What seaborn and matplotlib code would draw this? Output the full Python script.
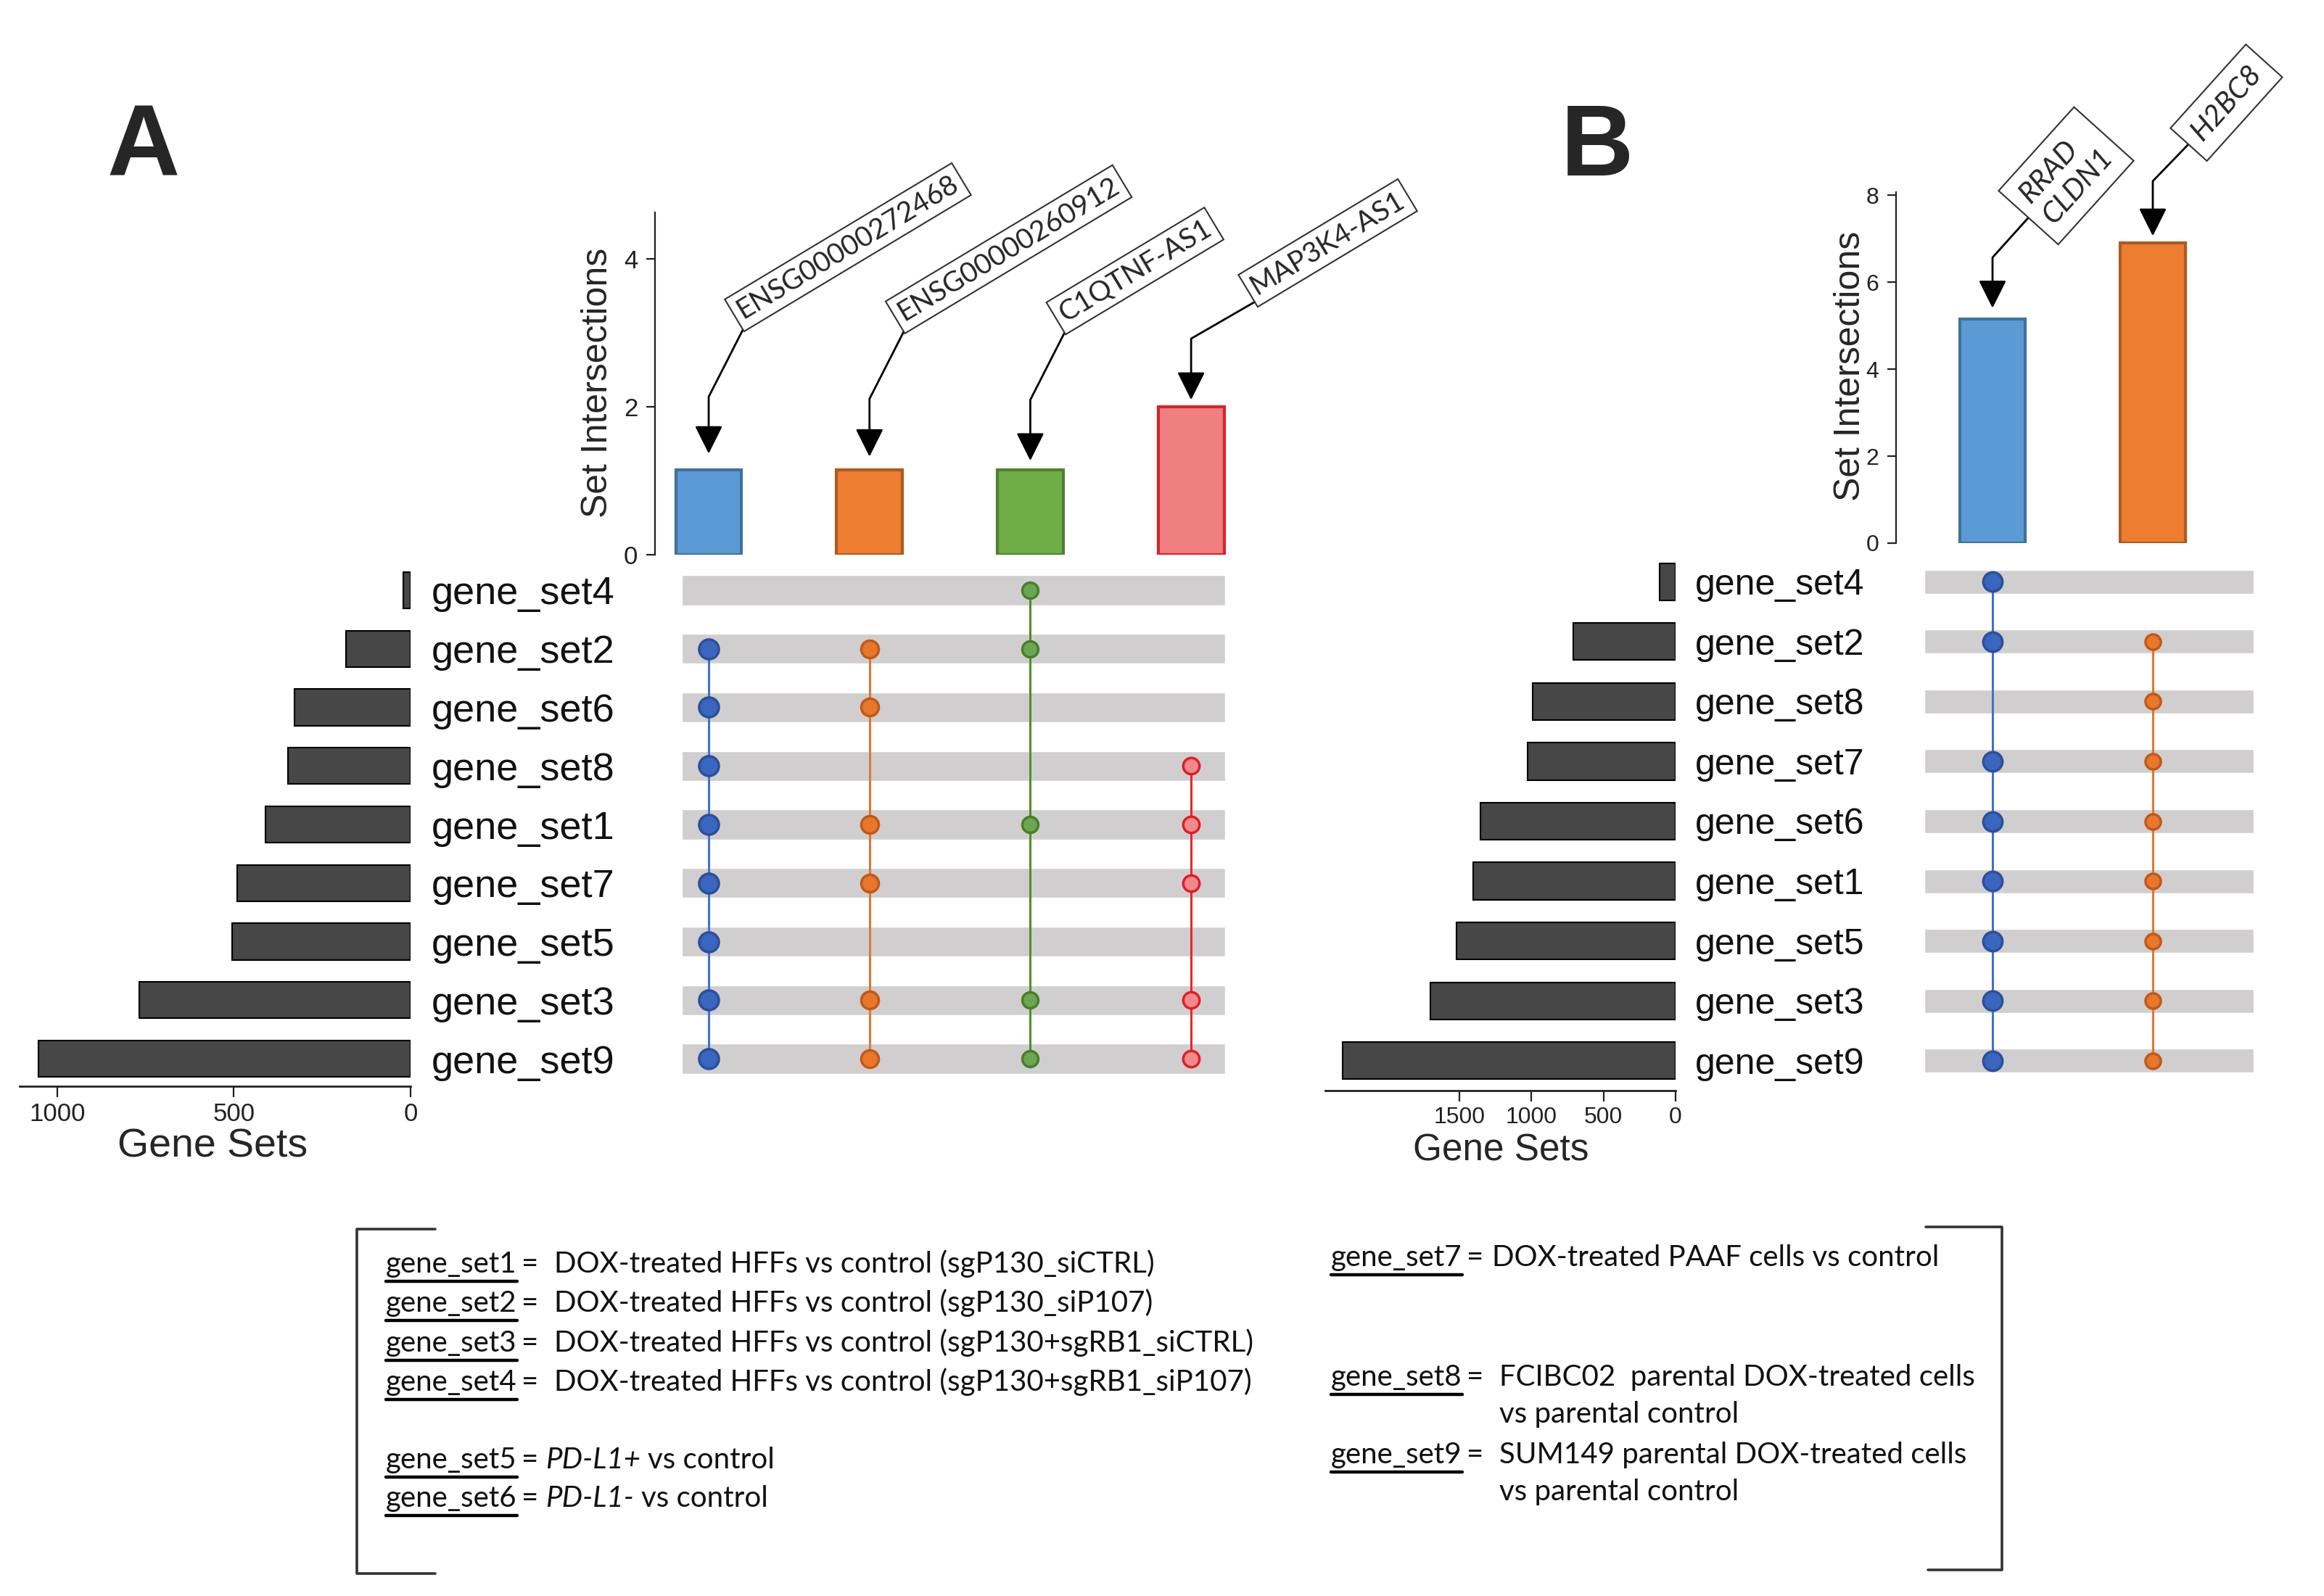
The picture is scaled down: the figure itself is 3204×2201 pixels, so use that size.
import numpy as np
import pandas as pd
import matplotlib
matplotlib.use('Agg')
import matplotlib.pyplot as plt
from matplotlib.lines import Line2D
import seaborn as sns

# ---------------------------------------------------------
# Data
# ---------------------------------------------------------
sets_a = ['gene_set4', 'gene_set2', 'gene_set6', 'gene_set8', 'gene_set1',
          'gene_set7', 'gene_set5', 'gene_set3', 'gene_set9']
set_sizes_a = [20, 182, 328, 346, 410, 491, 504, 767, 1053]
genes_a = ['ENSG00000272468', 'ENSG00000260912', 'C1QTNF-AS1', 'MAP3K4-AS1']
counts_a = [1.15, 1.15, 1.15, 2.0]
members_a = [
    ['gene_set2', 'gene_set6', 'gene_set8', 'gene_set1', 'gene_set7', 'gene_set5', 'gene_set3', 'gene_set9'],
    ['gene_set2', 'gene_set6', 'gene_set1', 'gene_set7', 'gene_set3', 'gene_set9'],
    ['gene_set4', 'gene_set2', 'gene_set1', 'gene_set3', 'gene_set9'],
    ['gene_set8', 'gene_set1', 'gene_set7', 'gene_set3', 'gene_set9'],
]

sets_b = ['gene_set4', 'gene_set2', 'gene_set8', 'gene_set7', 'gene_set6',
          'gene_set1', 'gene_set5', 'gene_set3', 'gene_set9']
set_sizes_b = [113, 708, 991, 1027, 1352, 1406, 1519, 1699, 2311]
genes_b = ['RRAD\nCLDN1', 'H2BC8']
counts_b = [5.15, 6.9]
members_b = [
    ['gene_set4', 'gene_set2', 'gene_set7', 'gene_set6', 'gene_set1', 'gene_set5', 'gene_set3', 'gene_set9'],
    ['gene_set2', 'gene_set8', 'gene_set7', 'gene_set6', 'gene_set1', 'gene_set5', 'gene_set3', 'gene_set9'],
]

legend_left = [
    ('gene_set1', [('DOX-treated HFFs vs control (sgP130_siCTRL)', 'normal')], None),
    ('gene_set2', [('DOX-treated HFFs vs control (sgP130_siP107)', 'normal')], None),
    ('gene_set3', [('DOX-treated HFFs vs control (sgP130+sgRB1_siCTRL)', 'normal')], None),
    ('gene_set4', [('DOX-treated HFFs vs control (sgP130+sgRB1_siP107)', 'normal')], None),
    ('gene_set5', [('PD-L1+', 'italic'), ('vs control', 'normal')], None),
    ('gene_set6', [('PD-L1-', 'italic'), ('vs control', 'normal')], None),
]
legend_right = [
    ('gene_set7', [('DOX-treated PAAF cells vs control', 'normal')], None),
    ('gene_set8', [('FCIBC02  parental DOX-treated cells', 'normal')], 'vs parental control'),
    ('gene_set9', [('SUM149 parental DOX-treated cells', 'normal')], 'vs parental control'),
]

# colours
bar_fill = ['#5b9bd5', '#ed7d31', '#70ad47', '#f08080']
bar_edge = ['#41719c', '#ae5a21', '#507e32', '#d9222a']
dot_fill = ['#3a66c0', '#e8772a', '#6aa84f', '#f08a8a']
dot_edge = ['#2b4f9a', '#c0581a', '#4a7d2c', '#e01e26']
line_col = ['#4472c4', '#d97a34', '#4f8f2f', '#e8262c']
stripe_col = '#d0cece'
set_bar_col = '#474747'

# ---------------------------------------------------------
# Layout (pixel positions of the 3204 x 2201 canvas)
# ---------------------------------------------------------
W, H, DPI = 3204, 2201, 100
ANN_FONT = 'Lato'

layout_a = dict(left_x=(27, 566), mat_x=(903, 1700), top_y=(293, 765), low_y=(776, 1498),
                cols=(-0.334, 3.261), rows=(8.47, -0.47), stripe=(-0.167, 3.21), stripe_h=0.51,
                count_max=4.63, count_ticks=[0, 2, 4], size_max=1106, size_ticks=[0, 500, 1000],
                ylab_xy=(-0.099, 0.502), xlab_xy=(0.493, -0.116),
                name_fs=39, name_pad=21, xt_fs=25, yt_fs=25, xlab_fs=40, ylab_fs=36,
                dot_s=[380, 300, 250, 260],
                ann_rot=31, ann_va='bottom', ann_style='normal', ann_fs=28, ann_pad=0.2,
                ann=[((37, 145), 16, 63), ((37, 143), 13, 63), ((37, 142), 9, 63), ((68, 107), 7, 30)])

layout_b = dict(left_x=(1827, 2310), mat_x=(2614, 3120), top_y=(265, 749), low_y=(761, 1504),
                cols=(-0.602, 1.688), rows=(8.5, -0.5), stripe=(-0.425, 1.63), stripe_h=0.40,
                count_max=8.07, count_ticks=[0, 2, 4, 6, 8], size_max=2431, size_ticks=[0, 500, 1000, 1500],
                ylab_xy=(-0.1245, 0.504), xlab_xy=(0.501, -0.112),
                name_fs=36, name_pad=19, xt_fs=23, yt_fs=23, xlab_fs=37, ylab_fs=36,
                dot_s=[360, 230],
                ann_rot=48, ann_va='center', ann_style='italic', ann_fs=29, ann_pad=0.38,
                ann=[((43, 109), 11, 48), ((43, 106), 7, 46)])


def px_rect(x0, x1, ytop, ybot):
    return [x0 / W, 1 - ybot / H, (x1 - x0) / W, (ybot - ytop) / H]


sns.set_theme(style='ticks')
plt.rcParams['font.family'] = ['Liberation Sans', 'DejaVu Sans']

fig = plt.figure(figsize=(W / DPI, H / DPI), dpi=DPI)


def draw_upset(sets, set_sizes, genes, counts, members, lay):
    ax_top = fig.add_axes(px_rect(*lay['mat_x'], *lay['top_y']))
    ax_left = fig.add_axes(px_rect(*lay['left_x'], *lay['low_y']))
    ax_mat = fig.add_axes(px_rect(*lay['mat_x'], *lay['low_y']))
    ncol = len(genes)

    # intersection size bars
    df_top = pd.DataFrame({'gene': genes, 'count': counts})
    sns.barplot(data=df_top, x='gene', y='count', hue='gene', palette=bar_fill[:ncol],
                width=0.41, saturation=1, legend=False, ax=ax_top)
    for patch, ec in zip(ax_top.patches, bar_edge):
        patch.set_edgecolor(ec)
        patch.set_linewidth(3)
    ax_top.set_xlim(*lay['cols'])
    ax_top.set_ylim(0, lay['count_max'])
    ax_top.set_yticks(lay['count_ticks'])
    ax_top.set_xticks([])
    ax_top.set_xlabel('')
    sns.despine(ax=ax_top, bottom=True)
    ax_top.spines['left'].set_linewidth(1.6)
    ax_top.spines['left'].set_color('#222222')
    ax_top.tick_params(axis='y', length=9, width=1.6, pad=8, labelsize=lay['yt_fs'], colors='#222222')
    ax_top.set_ylabel('Set Intersections', fontsize=lay['ylab_fs'], va='center')
    ax_top.yaxis.set_label_coords(*lay['ylab_xy'])

    # gene name call-outs
    for i, (gene, val) in enumerate(zip(genes, counts)):
        off, gap, ang = lay['ann'][i]
        ax_top.annotate('', xy=(i, val), xytext=off, textcoords='offset points',
                        annotation_clip=False,
                        arrowprops=dict(arrowstyle='-|>,head_length=0.8,head_width=0.4',
                                        mutation_scale=30, color='black', lw=2,
                                        shrinkA=0, shrinkB=gap,
                                        connectionstyle=f'angle,angleA={ang},angleB=90,rad=0'))
        ax_top.annotate(gene, xy=(i, val), xytext=off, textcoords='offset points',
                        annotation_clip=False, rotation=lay['ann_rot'], rotation_mode='anchor',
                        ha='left', va=lay['ann_va'], multialignment='left',
                        fontsize=lay['ann_fs'], family=ANN_FONT, style=lay['ann_style'],
                        bbox=dict(boxstyle=f"square,pad={lay['ann_pad']}", fc='white',
                                  ec='#333333', lw=1.5))

    # set size bars
    df_left = pd.DataFrame({'set': sets, 'size': set_sizes})
    sns.barplot(data=df_left, x='size', y='set', orient='h', color=set_bar_col, width=0.62,
                saturation=1, edgecolor='black', linewidth=1.5, ax=ax_left)
    ax_left.set_xlim(lay['size_max'], 0)
    ax_left.set_ylim(*lay['rows'])
    ax_left.set_xticks(lay['size_ticks'])
    sns.despine(ax=ax_left, left=True)
    ax_left.yaxis.tick_right()
    ax_left.tick_params(axis='y', length=0, pad=lay['name_pad'], labelsize=lay['name_fs'],
                        labelcolor='#111111')
    ax_left.tick_params(axis='x', length=11, width=1.6, pad=5, labelsize=lay['xt_fs'],
                        colors='#222222')
    ax_left.spines['bottom'].set_linewidth(2)
    ax_left.spines['bottom'].set_color('#222222')
    ax_left.set_ylabel('')
    ax_left.set_xlabel('Gene Sets', fontsize=lay['xlab_fs'], va='center')
    ax_left.xaxis.set_label_coords(*lay['xlab_xy'])

    # membership matrix
    rows = np.arange(len(sets))
    s0, s1 = lay['stripe']
    ax_mat.barh(rows, s1 - s0, left=s0, height=lay['stripe_h'], color=stripe_col, zorder=0)
    for i, mem in enumerate(members):
        r = [sets.index(s) for s in mem]
        ax_mat.plot([i, i], [min(r), max(r)], color=line_col[i], lw=2.2, zorder=2)
        sns.scatterplot(x=[i] * len(r), y=r, color=dot_fill[i], edgecolor=dot_edge[i],
                        linewidth=2.5, s=lay['dot_s'][i], zorder=3, legend=False, ax=ax_mat)
    ax_mat.set_xlim(*lay['cols'])
    ax_mat.set_ylim(*lay['rows'])
    ax_mat.axis('off')


draw_upset(sets_a, set_sizes_a, genes_a, counts_a, members_a, layout_a)
draw_upset(sets_b, set_sizes_b, genes_b, counts_b, members_b, layout_b)

# panel letters
fig.text(198 / W, 1 - 242 / H, 'A', fontsize=100, fontweight='bold', ha='center', va='baseline')
fig.text(2202 / W, 1 - 242 / H, 'B', fontsize=100, fontweight='bold', ha='center', va='baseline')

# ---------------------------------------------------------
# Gene set key under the plots
# ---------------------------------------------------------
LEG_FS = 29
renderer = fig.canvas.get_renderer()
em = LEG_FS * DPI / 72


def key_line(x_px, y_px, name, parts, cont, eq_gap, cont_dy):
    kw = dict(fontsize=LEG_FS, family=ANN_FONT, va='baseline', ha='left', color='#111111')
    t = fig.text(x_px / W, 1 - y_px / H, name, **kw)
    bb = t.get_window_extent(renderer)
    uy = 1 - (y_px + 0.3 * em) / H
    fig.add_artist(Line2D([bb.x0 / W, bb.x1 / W], [uy, uy], color='black', lw=3.2))
    t = fig.text((bb.x1 + 0.15 * em) / W, 1 - y_px / H, '=', **kw)
    bb = t.get_window_extent(renderer)
    x = bb.x1 + eq_gap * em
    x_desc = x
    for text, style in parts:
        t = fig.text(x / W, 1 - y_px / H, text, style=style, **kw)
        bb = t.get_window_extent(renderer)
        x = bb.x1 + 0.25 * em
    if cont:
        fig.text(x_desc / W, 1 - (y_px + cont_dy) / H, cont, **kw)


left_base = [1755, 1809, 1864, 1918, 2025, 2078]
left_gap = [0.55, 0.55, 0.55, 0.55, 0.25, 0.25]
for (name, parts, cont), yb, g in zip(legend_left, left_base, left_gap):
    key_line(532, yb, name, parts, cont, g, 52)

right_base = [1746, 1911, 2018]
right_gap = [0.3, 0.55, 0.55]
for (name, parts, cont), yb, g in zip(legend_right, right_base, right_gap):
    key_line(1835, yb, name, parts, cont, g, 51)

# brackets around the key
for pts in ([(600, 1695), (492, 1695), (492, 2170), (600, 2170)],
            [(2655, 1692), (2760, 1692), (2760, 2165), (2658, 2165)]):
    xs = [p[0] / W for p in pts]
    ys = [1 - p[1] / H for p in pts]
    fig.add_artist(Line2D(xs, ys, color='#333333', lw=2.6))

fig.savefig('out.png', dpi=DPI)
